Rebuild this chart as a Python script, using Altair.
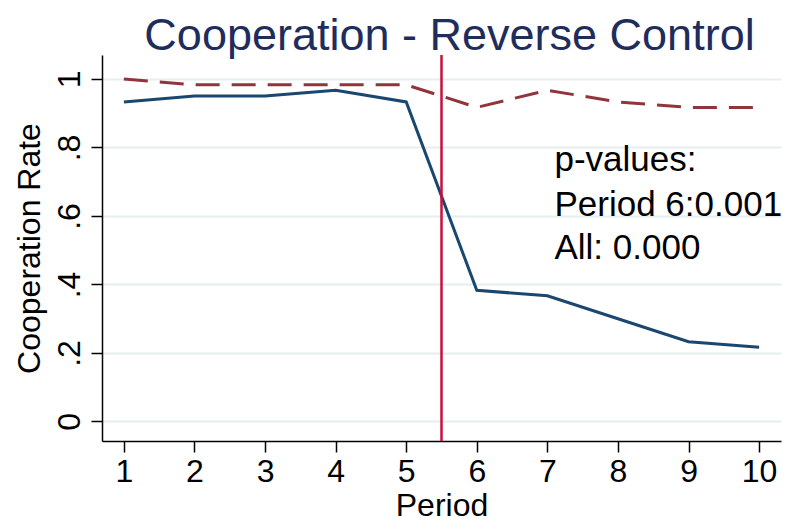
import altair as alt
import pandas as pd

periods = [1, 2, 3, 4, 5, 6, 7, 8, 9, 10]
reverse_rate = [0.933, 0.950, 0.950, 0.967, 0.933, 0.383, 0.367, 0.300, 0.233, 0.217]
control_rate = [1.000, 0.983, 0.983, 0.983, 0.983, 0.917, 0.967, 0.933, 0.917, 0.917]
cutoff = [5.5]
note_lines = ["p-values:", "Period 6:0.001", "All: 0.000"]
note_x = [7.1, 7.1, 7.1]
note_y = [0.730, 0.599, 0.474]
y_ticks = [0, 0.2, 0.4, 0.6, 0.8, 1]

FONT = "Liberation Sans"

df = pd.DataFrame({"Period": periods, "reverse": reverse_rate, "control": control_rate})
rule_df = pd.DataFrame({"x": cutoff})
note_df = pd.DataFrame({"x": note_x, "y": note_y, "t": note_lines})

xs = alt.Scale(domain=[0.69, 10.31], nice=False, zero=False)
ys = alt.Scale(domain=[-0.057, 1.07], nice=False, zero=False)

x_axis = alt.Axis(values=periods, format="d", title="Period", grid=False, labelFlush=False)
y_axis = alt.Axis(
    values=y_ticks,
    title="Cooperation Rate",
    grid=True,
    labelAngle=270,
    labelAlign="center",
    labelBaseline="alphabetic",
    labelPadding=12,
    labelExpr="datum.value == 0 ? '0' : (datum.value == 1 ? '1' : replace(format(datum.value, '.1f'), '0.', '.'))",
)

base = alt.Chart(df)

reverse_line = base.mark_line(color="#1a476f", strokeWidth=3).encode(
    x=alt.X("Period:Q", scale=xs, axis=x_axis),
    y=alt.Y("reverse:Q", scale=ys, axis=y_axis),
)

control_line = base.mark_line(color="#90353b", strokeWidth=3, strokeDash=[24, 12]).encode(
    x=alt.X("Period:Q", scale=xs, axis=x_axis),
    y=alt.Y("control:Q", scale=ys, axis=y_axis),
)

rule = alt.Chart(rule_df).mark_rule(color="#c8103e", strokeWidth=2.5).encode(
    x=alt.X("x:Q", scale=xs, axis=x_axis)
)

notes = alt.Chart(note_df).mark_text(
    align="left", baseline="alphabetic", font=FONT, fontSize=35, color="black"
).encode(
    x=alt.X("x:Q", scale=xs, axis=x_axis),
    y=alt.Y("y:Q", scale=ys, axis=y_axis),
    text="t:N",
)

chart = (
    alt.layer(reverse_line, control_line, rule, notes)
    .properties(
        width=679,
        height=386,
        autosize=alt.AutoSizeParams(type="none"),
        padding={"left": 94, "top": 47, "right": 6, "bottom": 81},
        title=alt.Title(
            "Cooperation - Reverse Control",
            fontSize=45,
            font=FONT,
            fontWeight="normal",
            color="#1e2d5c",
            anchor="middle",
            offset=-5,
            dx=8,
        ),
        background="white",
    )
    .configure_view(strokeWidth=0, stroke="transparent")
    .configure_axis(
        domainColor="black",
        domainWidth=1.5,
        tickColor="black",
        tickWidth=1.5,
        tickSize=11,
        labelFont=FONT,
        labelFontSize=32,
        labelColor="black",
        titleFont=FONT,
        titleFontSize=32,
        titleFontWeight="normal",
        titleColor="black",
        gridColor="#e6eef0",
        gridWidth=2,
    )
    .configure_axisX(labelPadding=4, titlePadding=3, grid=False)
    .configure_axisY(titlePadding=7)
)

chart.save("out.html", embed_options={"renderer": "svg", "actions": False})
